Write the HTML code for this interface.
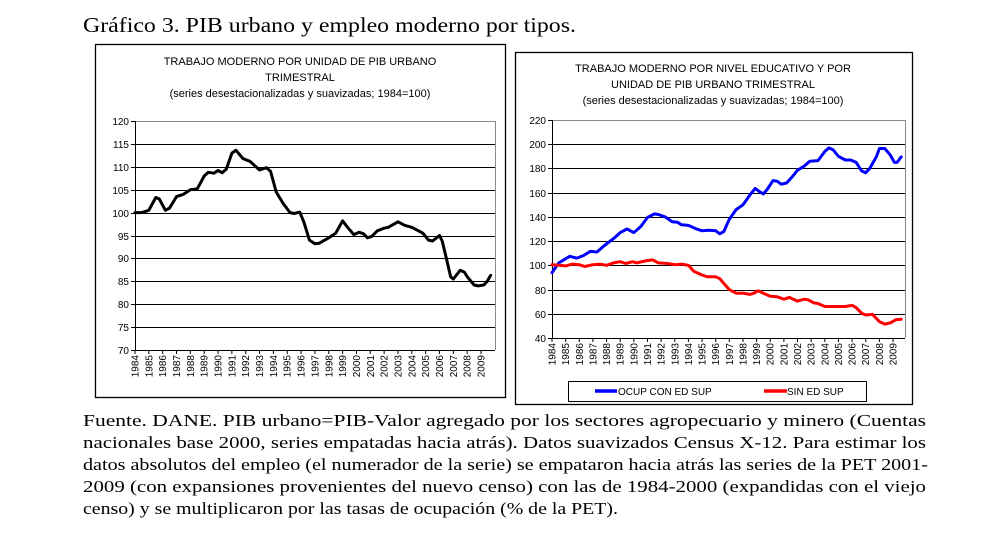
<!DOCTYPE html>
<html><head><meta charset="utf-8"><style>
html,body{margin:0;padding:0;background:#fff;}
svg{display:block;}
</style></head><body>
<svg id="s" width="995" height="535" xmlns="http://www.w3.org/2000/svg" font-family="Liberation Sans, Arial, sans-serif">
<rect width="995" height="535" fill="#fff"/>
<text x="83" y="32" font-family="Liberation Serif, serif" font-size="21" textLength="493" lengthAdjust="spacingAndGlyphs">Gráfico 3. PIB urbano y empleo moderno por tipos.</text>
<rect x="95.5" y="44.5" width="410" height="353" fill="none" stroke="#000" stroke-width="1.3"/>
<rect x="515.5" y="52.5" width="397" height="352" fill="none" stroke="#000" stroke-width="1.3"/>
<g font-size="11" text-anchor="middle" fill="#000">
<text x="300" y="65">TRABAJO MODERNO POR UNIDAD DE PIB URBANO</text>
<text x="300" y="81">TRIMESTRAL</text>
<text x="300" y="97">(series  desestacionalizadas y suavizadas; 1984=100)</text>
<text x="713" y="72">TRABAJO MODERNO POR NIVEL EDUCATIVO Y POR</text>
<text x="713" y="88">UNIDAD DE PIB URBANO TRIMESTRAL</text>
<text x="713" y="104">(series  desestacionalizadas y suavizadas; 1984=100)</text>
</g>
<g id="g1"></g>
<g id="g2"></g>
<rect x="568.5" y="381.5" width="298" height="20" fill="none" stroke="#000" stroke-width="1"/>
<line x1="595" y1="391" x2="617" y2="391" stroke="#0000ff" stroke-width="3.5"/>
<text x="618" y="395" font-size="10">OCUP CON ED SUP</text>
<line x1="764" y1="391" x2="787" y2="391" stroke="#ff0000" stroke-width="3.5"/>
<text x="787" y="395" font-size="10">SIN ED SUP</text>
<g font-family="Liberation Serif, serif" font-size="17">
<text x="83" y="426" textLength="843" lengthAdjust="spacingAndGlyphs">Fuente. DANE. PIB urbano=PIB-Valor agregado por los sectores agropecuario y minero (Cuentas</text>
<text x="83" y="448" textLength="843" lengthAdjust="spacingAndGlyphs">nacionales base 2000, series empatadas hacia atrás). Datos suavizados Census X-12. Para estimar los</text>
<text x="83" y="470" textLength="845" lengthAdjust="spacingAndGlyphs">datos absolutos del empleo (el numerador de la serie) se empataron hacia atrás las series de la PET 2001-</text>
<text x="83" y="492" textLength="843" lengthAdjust="spacingAndGlyphs">2009 (con expansiones provenientes del  nuevo censo) con las de 1984-2000 (expandidas con el viejo</text>
<text x="83" y="514" textLength="535" lengthAdjust="spacingAndGlyphs">censo) y se multiplicaron por las tasas de ocupación (% de la PET).</text>
</g>
</svg>
<script>
var NS="http://www.w3.org/2000/svg";
function el(p,t,a,txt){var e=document.createElementNS(NS,t);for(var k in a)e.setAttribute(k,a[k]);if(txt!==undefined)e.textContent=txt;p.appendChild(e);return e;}
function chart(g,o){
 var X=function(t){return o.x0+(t-1984)*o.dx;};
 var Y=function(v){return o.y1-(v-o.vmin)/(o.vmax-o.vmin)*(o.y1-o.y0);};
 for(var v=o.vmin;v<=o.vmax+0.01;v+=o.step){
  var y=Math.round(Y(v))+0.5;
  if(v>o.vmin) el(g,"line",{x1:o.x0,x2:o.xr,y1:y,y2:y,stroke:"#000","stroke-width":1});
  el(g,"line",{x1:o.x0-4,x2:o.x0,y1:y,y2:y,stroke:"#000"});
  el(g,"text",{x:o.x0-6,y:y+3.5,"font-size":10,"text-anchor":"end"},String(v));
 }
 el(g,"line",{x1:o.x0,x2:o.xr,y1:o.y0+0.5,y2:o.y0+0.5,stroke:"#888"});
 el(g,"line",{x1:o.xr+0.5,x2:o.xr+0.5,y1:o.y0,y2:o.y1,stroke:"#888"});
 el(g,"line",{x1:o.x0+0.5,x2:o.x0+0.5,y1:o.y0,y2:o.y1,stroke:"#000"});
 el(g,"line",{x1:o.x0,x2:o.xr,y1:o.y1+0.5,y2:o.y1+0.5,stroke:"#000"});
 for(var yr=1984;yr<=2009;yr++){
  var x=X(yr);
  el(g,"line",{x1:x,x2:x,y1:o.y1,y2:o.y1+4,stroke:"#000"});
  el(g,"text",{x:0,y:0,"font-size":10,"text-anchor":"end",transform:"translate("+(x+3.5)+","+(o.y1+5)+") rotate(-90)"},String(yr));
 }
 o.series.forEach(function(s){
  var d="";var p=s.d;
  for(var i=0;i<p.length;i+=2){d+=(i?"L":"M")+X(p[i]).toFixed(1)+","+Y(p[i+1]).toFixed(1);}
  el(g,"path",{d:d,fill:"none",stroke:s.c,"stroke-width":3,"stroke-linejoin":"round","stroke-linecap":"round"});
 });
}
chart(document.getElementById("g1"),{x0:135,xr:495,dx:13.84,y0:121,y1:350,vmin:70,vmax:120,step:5,series:[{c:"#000",d:[
1984,100,1984.5,100,1985,100.5,1985.5,103.3,1985.75,103,1986.2,100.5,1986.5,101,1987,103.5,1987.5,104,1988,105,1988.5,105.2,1989,108,1989.3,108.8,1989.7,108.6,1990,109.2,1990.3,108.7,1990.6,109.5,1991,113,1991.3,113.6,1991.8,111.8,1992.3,111.2,1993,109.3,1993.5,109.8,1993.8,109,1994.2,104.5,1994.7,102,1995.2,100,1995.5,99.8,1995.9,100.1,1996.2,98,1996.6,94,1997,93.2,1997.3,93.3,1998,94.5,1998.5,95.5,1999,98.2,1999.3,97,1999.8,95.2,2000.2,95.7,2000.5,95.4,2000.8,94.5,2001.1,94.8,2001.5,96,2002,96.6,2002.3,96.8,2003,98,2003.5,97.2,2004,96.8,2004.5,96,2004.8,95.5,2005.2,94,2005.5,93.8,2006,95,2006.2,93.8,2006.5,90,2006.8,86,2007,85.5,2007.5,87.4,2007.8,87,2008,86,2008.5,84.2,2008.8,84,2009.2,84.2,2009.45,85,2009.7,86.3]}]});
chart(document.getElementById("g2"),{x0:552,xr:905,dx:13.64,y0:120,y1:338,vmin:40,vmax:220,step:20,series:[
{c:"#0000ff",d:[1984,94,1984.5,102,1985.3,107.5,1985.8,106,1986.3,108,1986.8,111.5,1987.3,111,1987.8,116,1988.5,122,1989,127,1989.5,130,1990,127,1990.5,132,1991,139.5,1991.5,142.5,1991.8,142,1992.3,140,1992.8,136,1993.2,135.5,1993.5,133.5,1994,133,1994.5,130.5,1995,128.5,1995.5,129,1996,128.5,1996.3,126,1996.6,128,1997,138,1997.5,146,1998,150,1998.5,158,1998.9,163.5,1999.2,161,1999.5,159,1999.8,163,2000.2,170,2000.5,169.5,2000.8,167,2001.2,168,2001.6,173,2002,178.5,2002.5,182,2002.9,186,2003.5,186.5,2004,194,2004.3,197,2004.6,195.5,2005,190,2005.5,187,2005.9,187,2006.3,185,2006.7,178,2007,176.5,2007.3,180,2007.8,190,2008,196.5,2008.4,196.5,2008.8,191,2009.1,185,2009.3,185,2009.6,189.5]},
{c:"#ff0000",d:[1984,100.5,1984.5,100,1985,99.5,1985.5,101,1986,100.5,1986.4,99,1987,100.5,1987.5,101,1988,100,1988.5,102,1989,103,1989.4,101.5,1989.9,103,1990.2,102,1990.6,103,1991,104,1991.4,104.5,1991.8,102,1992.5,101.5,1993,100.5,1993.5,101,1994,100,1994.4,95,1995,92,1995.4,90.5,1996,90.5,1996.3,89,1996.6,85,1997,80,1997.5,77,1998,77,1998.5,76,1998.8,77,1999.1,79,1999.5,77,2000,74.5,2000.5,74,2001,72,2001.4,73.5,2002,70.5,2002.5,72,2002.8,71.5,2003.2,69,2003.5,68.5,2004,66,2004.5,66,2005,66,2005.5,66,2006,67,2006.3,65,2006.7,60.5,2007,59,2007.5,59.5,2008,53.5,2008.4,51.5,2008.8,52.5,2009.2,55,2009.6,55.5]}]});
</script>
</body></html>
